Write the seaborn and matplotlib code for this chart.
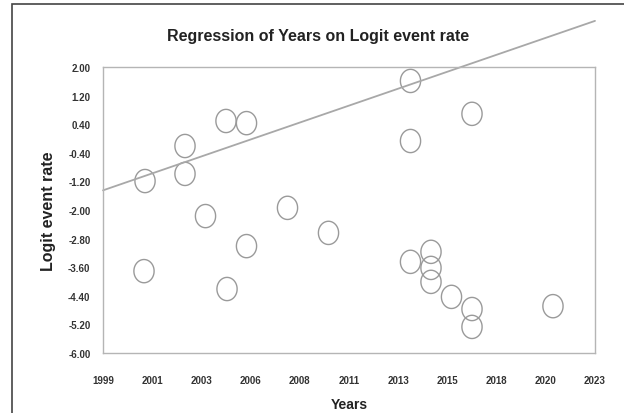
import numpy as np
import pandas as pd
import matplotlib
matplotlib.use("Agg")
import matplotlib.pyplot as plt
import seaborn as sns
from matplotlib.path import Path
from matplotlib.patches import Rectangle

# data
years = [2000.65, 2002.6, 2002.6, 2004.6, 2005.6, 2003.6, 2007.6, 2005.6, 2009.6,
         2000.6, 2004.65, 2013.6, 2016.6, 2013.6, 2013.6, 2014.6, 2014.6, 2014.6,
         2015.6, 2016.6, 2016.6, 2020.55]
logit = [-1.19, -0.21, -0.99, 0.49, 0.43, -2.17, -1.94, -3.01, -2.64,
         -3.71, -4.21, 1.61, 0.69, -0.07, -3.45, -3.17, -3.62, -4.01,
         -4.43, -4.77, -5.27, -4.69]

# regression line end points
line_years = [1998.6, 2022.6]
line_vals = [-1.45, 3.29]

x_ticks = [1998.6 + 2.4 * i for i in range(11)]
x_labels = ['1999', '2001', '2003', '2006', '2008', '2011', '2013', '2015', '2018', '2020', '2023']
y_ticks = [-6.0 + 0.8 * i for i in range(11)]

df = pd.DataFrame({'Years': years, 'Logit': logit})

sns.set_style("white")
plt.rcParams['font.family'] = ['Liberation Sans', 'DejaVu Sans']

fig = plt.figure(figsize=(6.24, 4.14), dpi=100)
ax = fig.add_axes([103 / 624, 1 - 354 / 414, 492 / 624, 286 / 414])

# slightly tall ellipse marker like the original
t = np.linspace(0, 2 * np.pi, 60)
ell = Path(np.column_stack([0.87 * np.cos(t), np.sin(t)]))

sns.scatterplot(data=df, x='Years', y='Logit', marker=ell, s=280,
                fc='none', ec='#9a9a9a', linewidth=1.0, ax=ax, clip_on=False)
ax.plot(line_years, line_vals, color='#a8a8a8', lw=1.3, clip_on=False)

ax.set_xlim(1998.6, 2022.6)
ax.set_ylim(-6, 2)
ax.set_xticks(x_ticks)
ax.set_xticklabels(x_labels)
ax.set_yticks(y_ticks)
ax.set_yticklabels(['%.2f' % v for v in y_ticks])

for s in ax.spines.values():
    s.set_color('#b5b5b5')
    s.set_linewidth(1.0)
ax.tick_params(axis='both', colors='#c0c0c0', length=3, width=0.8)
ax.tick_params(axis='x', direction='in', pad=16)
ax.tick_params(axis='y', direction='out', pad=6)
for lab in ax.get_xticklabels() + ax.get_yticklabels():
    lab.set_color('#333333')
    lab.set_fontsize(7)
    lab.set_fontweight('bold')

ax.set_xlabel('Years', fontsize=10, fontweight='bold', color='#222222')
ax.xaxis.set_label_coords(0.5, (354 - 405) / 286, transform=ax.transAxes)
ax.xaxis.label.set_va('center')
ax.set_ylabel('Logit event rate', fontsize=11.5, fontweight='bold', color='#222222', labelpad=9)
fig.text(318 / 624, 1 - 37 / 414, 'Regression of Years on Logit event rate',
         ha='center', va='center', fontsize=11.5, fontweight='bold', color='#222222')

# outer frame
fig.patches.append(Rectangle((12 / 624, -0.02), 1.0, 1 - 5 / 414 + 0.02,
                             transform=fig.transFigure, fill=False,
                             ec='#444444', lw=1.2))

fig.savefig('out.png', dpi=100)
